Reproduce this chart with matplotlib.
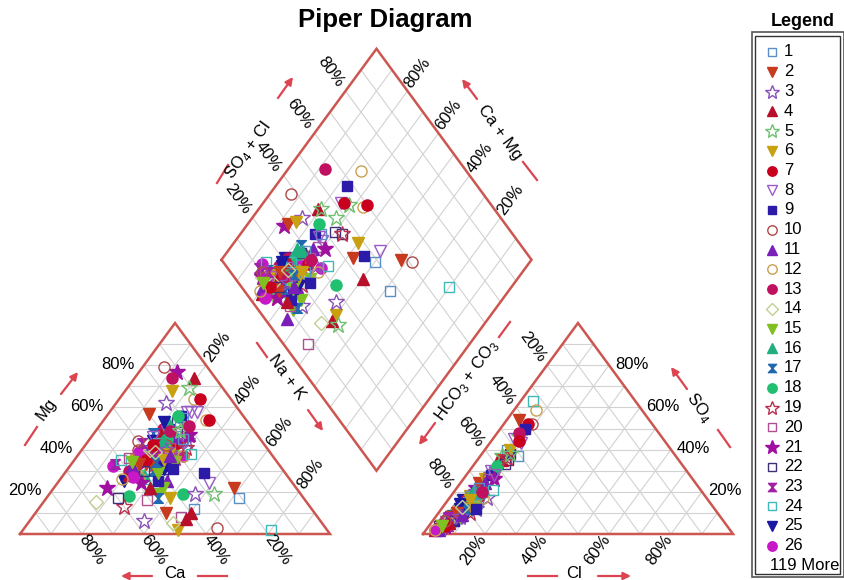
import numpy as np
import matplotlib
matplotlib.use("Agg")
import matplotlib.pyplot as plt
from matplotlib.patches import Rectangle

plt.rcParams["font.family"] = ["Liberation Sans", "DejaVu Sans"]
plt.rcParams["mathtext.fontset"] = "custom"
plt.rcParams["mathtext.rm"] = "Liberation Sans"

# ---- sample data, percent (Ca = 100 - Mg - NaK, HCO3 = 100 - SO4 - Cl) ----
mg = [12, 10, 6, 10, 45, 2, 45, 24, 29, 3, 47, 54, 30, 15, 19, 56, 40, 19, 33, 8,
      77, 26, 36, 2, 34, 32, 17, 22, 19, 7, 19, 17, 54, 58, 50, 79, 25, 64, 74, 5,
      22, 22, 17, 18, 13, 16, 22, 17, 33, 35, 25, 37, 38, 57, 62, 74, 69, 68, 64, 58,
      56, 43, 38, 46, 50, 34, 40, 28, 48, 42, 36, 45, 31, 53, 39, 26, 44, 37, 51, 33,
      41, 47, 29, 35, 43, 49, 32, 40, 46, 27, 38, 42, 34, 52, 30, 45, 37, 41, 24, 48,
      36, 43, 31, 39, 55, 33, 44, 28, 50, 38, 35, 46, 25, 42, 32, 37, 49, 40, 29, 44,
      34, 56, 41, 36, 47, 30, 43, 38, 53, 27, 45, 33, 40, 22, 49, 35, 42, 58, 31, 44,
      37, 26, 51, 39, 34]
nak = [50, 42, 37, 50, 28, 50, 25, 49, 45, 62, 31, 33, 20, 17, 35, 24, 22, 43, 27, 48,
       12, 33, 22, 80, 20, 14, 62, 58, 47, 50, 53, 40, 34, 25, 23, 7, 35, 24, 12, 47,
       35, 31, 36, 26, 27, 33, 17, 23, 14, 15, 21, 34, 25, 13, 16, 19, 20, 15, 26, 28,
       24, 26, 22, 24, 21, 28, 30, 26, 19, 23, 32, 28, 22, 24, 25, 29, 21, 27, 26, 24,
       31, 22, 23, 20, 29, 23, 30, 18, 27, 25, 24, 20, 33, 22, 28, 25, 21, 28, 27, 30,
       25, 23, 31, 19, 25, 26, 32, 21, 28, 29, 23, 20, 32, 26, 20, 34, 24, 22, 30, 24,
       27, 23, 33, 17, 31, 25, 18, 36, 20, 23, 30, 22, 27, 31, 27, 29, 22, 26, 34, 16,
       30, 20, 29, 24, 19]
so4 = [37, 35, 8, 34, 46, 18, 10, 43, 38, 52, 12, 50, 12, 5, 6, 16, 22, 24, 20, 3,
       22, 35, 4, 63, 16, 8, 40, 54, 20, 15, 15, 40, 52, 45, 50, 30, 3, 59, 48, 12,
       10, 8, 7, 5, 4, 6, 5, 4, 6, 9, 8, 22, 18, 24, 28, 35, 37, 26, 44, 30,
       28, 11, 8, 16, 16, 6, 18, 5, 9, 18, 10, 26, 4, 20, 6, 8, 12, 15, 30, 8,
       12, 14, 3, 7, 18, 12, 8, 5, 24, 4, 10, 8, 14, 21, 6, 10, 4, 20, 4, 33,
       8, 15, 10, 5, 22, 5, 17, 2, 14, 12, 9, 7, 6, 12, 2, 17, 10, 6, 8, 20,
       12, 32, 36, 6, 26, 6, 8, 21, 14, 2, 14, 10, 8, 5, 38, 16, 4, 28, 12, 6,
       9, 2, 20, 13, 4]
cl = [12, 8, 7, 7, 8, 6, 8, 10, 9, 9, 6, 8, 5, 4, 5, 6, 7, 7, 8, 5,
      6, 10, 6, 4, 5, 4, 7, 4, 7, 6, 7, 8, 8, 7, 8, 8, 4, 7, 7, 5,
      6, 5, 6, 4, 5, 5, 4, 3, 4, 5, 5, 8, 6, 6, 8, 8, 7, 7, 9, 7,
      8, 7, 6, 8, 6, 7, 9, 6, 5, 7, 10, 8, 5, 7, 6, 8, 6, 9, 8, 5,
      11, 7, 4, 6, 9, 7, 8, 5, 8, 5, 7, 6, 10, 6, 7, 8, 4, 9, 5, 10,
      6, 7, 9, 5, 7, 6, 12, 3, 8, 9, 6, 5, 7, 7, 4, 11, 6, 5, 8, 8,
      8, 8, 9, 5, 10, 6, 4, 12, 5, 3, 10, 6, 8, 6, 9, 7, 5, 9, 11, 4,
      8, 3, 9, 6, 4]

legend_labels = [str(k) for k in range(1, 27)]
more_label = "119 More"
pct_labels = ["20%", "40%", "60%", "80%"]
pct_levels = [0.2, 0.4, 0.6, 0.8]

# ---- styles of the 26 legend entries ----
HG = [(-1, 1), (1, 1), (-1, -1), (1, -1), (-1, 1)]
st_marker = ["s", "v", "*", "^", "*", "v", "o", "v", "s", "o", "^", "o", "o",
             "D", "v", "^", HG, "o", "*", "s", "*", "s", HG, "s", "v", "o"]
st_filled = [0, 1, 0, 1, 0, 1, 1, 0, 1, 0, 1, 0, 1, 0, 1, 1, 1, 1, 0, 0, 1, 0, 1, 0, 1, 1]
st_color = ["#5b8fc8", "#c83a1e", "#8a52b8", "#b8102a", "#70c070", "#c8a010",
            "#c8001e", "#9a5ac8", "#2c1aa8", "#b04848", "#7a20b8", "#c8a050",
            "#c01060", "#c0d090", "#80c020", "#20b080", "#2068b0", "#20c070",
            "#b83050", "#b05090", "#a010a0", "#40307a", "#a020a8", "#40b8b8",
            "#1a18a0", "#c818c8"]

OUT = "#cc5650"
ARR = "#dc4450"
GRID = "#d2d2d2"

G = 0.30
H = np.sqrt(3) / 2
X0, Y0, SX, SY = 20.0, 534.0, 310.0, 243.6
W, HT = 845, 580


def cat_xy(m, n):
    return n + m / 2, m * H


def an_xy(s, c):
    return 1 + G + c + s / 2, s * H


def dia_xy(n, a):
    return 0.5 + G / 2 + (n + a) / 2, H * (1 + G + a - n)


def px(p):
    return X0 + SX * p[0], Y0 - SY * p[1]


fig = plt.figure(figsize=(W / 100, HT / 100), dpi=100)
ax = fig.add_axes([0, 0, 1, 1])
ax.set_xlim(-X0 / SX, (W - X0) / SX)
ax.set_ylim(-(HT - Y0) / SY, Y0 / SY)
ax.axis("off")

pax = fig.add_axes([0, 0, 1, 1], zorder=3)
pax.set_xlim(0, W)
pax.set_ylim(HT, 0)
pax.axis("off")
pax.patch.set_alpha(0)


def seg(p, q, **kw):
    ax.plot([p[0], q[0]], [p[1], q[1]], **kw)


# grids
for k in np.arange(0.1, 0.95, 0.1):
    g = dict(color=GRID, lw=0.8, zorder=1)
    seg(cat_xy(k, 0), cat_xy(k, 1 - k), **g)
    seg(cat_xy(0, k), cat_xy(1 - k, k), **g)
    seg(cat_xy(0, 1 - k), cat_xy(1 - k, 0), **g)
    seg(an_xy(k, 0), an_xy(k, 1 - k), **g)
    seg(an_xy(0, k), an_xy(1 - k, k), **g)
    seg(an_xy(0, 1 - k), an_xy(1 - k, 0), **g)
    seg(dia_xy(0, k), dia_xy(1, k), **g)
    seg(dia_xy(k, 0), dia_xy(k, 1), **g)

# outlines
for pts in ([cat_xy(0, 0), cat_xy(0, 1), cat_xy(1, 0), cat_xy(0, 0)],
            [an_xy(0, 0), an_xy(0, 1), an_xy(1, 0), an_xy(0, 0)],
            [dia_xy(0, 0), dia_xy(1, 0), dia_xy(1, 1), dia_xy(0, 1), dia_xy(0, 0)]):
    xs, ys = zip(*pts)
    ax.plot(xs, ys, color=OUT, lw=1.8, zorder=2, solid_joinstyle="miter")


def msize(mk):
    if mk == "*":
        return 12
    if mk in ("v", "^"):
        return 8.5
    if mk == "o":
        return 8
    return 7


def draw(axis, x, y, j):
    mk = st_marker[j]
    c = st_color[j]
    axis.plot(x, y, linestyle="none", marker=mk, ms=msize(mk),
              mfc=c if st_filled[j] else "none", mec=c, mew=1.0, zorder=4)


for i in range(len(mg)):
    j = i % 26
    m, n, s, c = mg[i] / 100, nak[i] / 100, so4[i] / 100, cl[i] / 100
    draw(ax, *cat_xy(m, n), j)
    draw(ax, *an_xy(s, c), j)
    draw(ax, *dia_xy(n, s + c), j)

# percent labels
fs = 12
for k, lab in zip(pct_levels, pct_labels):
    x, y = px(cat_xy(k, 0))
    pax.text(x - 9, y - 1, lab, ha="right", va="center", fontsize=fs)
    x, y = px(cat_xy(0, 1 - k))
    pax.text(x + 10, y + 16, lab, ha="center", va="center", fontsize=fs, rotation=-54)
    x, y = px(cat_xy(1 - k, k))
    pax.text(x + 11, y - 18, lab, ha="center", va="center", fontsize=fs, rotation=54)
    x, y = px(an_xy(1 - k, 0))
    pax.text(x - 14, y - 18, lab, ha="center", va="center", fontsize=fs, rotation=-54)
    x, y = px(an_xy(0, k))
    pax.text(x - 12, y + 16, lab, ha="center", va="center", fontsize=fs, rotation=54)
    x, y = px(an_xy(k, 1 - k))
    pax.text(x + 6, y - 1, lab, ha="left", va="center", fontsize=fs)
    x, y = px(dia_xy(0, k))
    pax.text(x - 15, y - 19, lab, ha="center", va="center", fontsize=fs, rotation=-54)
    x, y = px(dia_xy(1 - k, 1))
    pax.text(x + 10, y - 18, lab, ha="center", va="center", fontsize=fs, rotation=54)


def axis_title(text, pos, rot, line, arrow):
    pax.text(pos[0], pos[1], text, ha="center", va="center", fontsize=fs, rotation=rot)
    pax.plot([line[0], line[2]], [line[1], line[3]], color=ARR, lw=1.6)
    pax.annotate("", xy=(arrow[2], arrow[3]), xytext=(arrow[0], arrow[1]),
                 arrowprops=dict(arrowstyle="-|>", color=ARR, lw=1.6,
                                 mutation_scale=11, shrinkA=0, shrinkB=0))


axis_title("Mg", (46, 409), 54, (25, 445, 37, 427), (61, 394, 78, 372))
axis_title("Ca", (175, 573), 0, (198, 576, 227, 576), (152, 576, 121, 576))
axis_title("Na + K", (287, 377), -54, (257, 343, 267, 357), (308, 410, 323, 431))
axis_title(r"HCO$_\mathregular{3}$ + CO$_\mathregular{3}$", (467, 381), 54,
           (499, 337, 510, 322), (435, 423, 419, 445))
axis_title("Cl", (574, 573), 0, (528, 576, 557, 576), (598, 576, 631, 576))
axis_title(r"SO$_\mathregular{4}$", (699, 407), -54, (718, 430, 730, 447), (687, 389, 671, 367))
axis_title(r"SO$_\mathregular{4}$ + Cl", (248, 150), 54, (217, 183, 228, 165), (278, 98, 293, 77))
axis_title("Ca + Mg", (500, 132), -54, (523, 162, 537, 180), (477, 99, 462, 79))

pax.text(385, 20, "Piper Diagram", ha="center", va="center", fontsize=18.5, fontweight="bold")

# legend
pax.text(803, 22, "Legend", ha="center", va="center", fontsize=13, fontweight="bold")
pax.add_patch(Rectangle((752, 32), 92, 545, fill=False, ec="#555555", lw=1.2))
pax.add_patch(Rectangle((755.5, 35.5), 85, 538, fill=False, ec="#333333", lw=1.0))
for j, lab in enumerate(legend_labels):
    yy = 52 + j * 19.75
    mk = st_marker[j]
    pax.plot(772, yy, linestyle="none", marker=mk, ms=msize(mk) * 0.85,
             mfc=st_color[j] if st_filled[j] else "none", mec=st_color[j], mew=1.0)
    pax.text(784, yy, lab, ha="left", va="center", fontsize=12)
pax.text(770, 565, more_label, ha="left", va="center", fontsize=12)

fig.savefig("out.png", dpi=100)
